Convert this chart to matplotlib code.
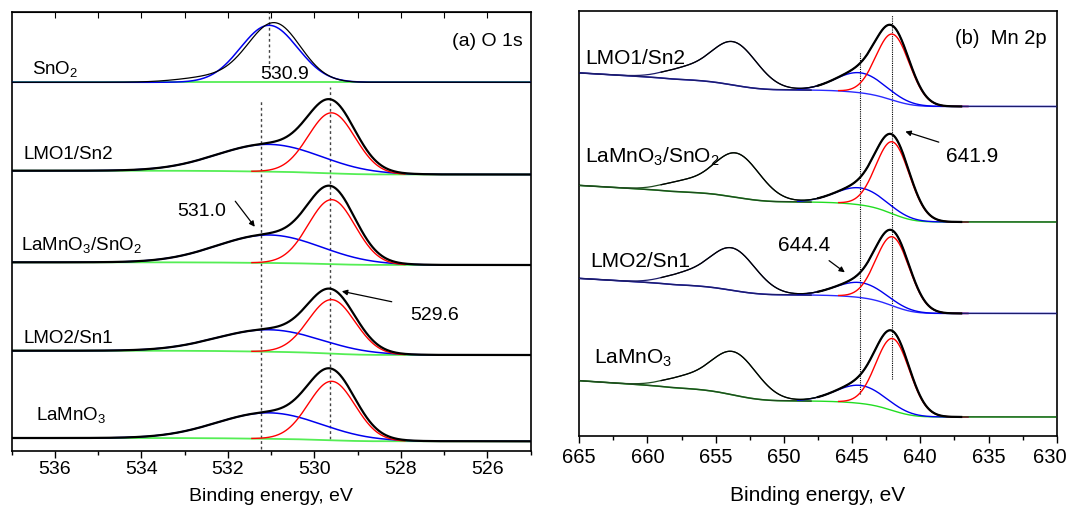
import numpy as np
import matplotlib.pyplot as plt
import matplotlib.transforms as mtransforms

plt.rcParams['font.family'] = ['Liberation Sans', 'DejaVu Sans']
plt.rcParams['mathtext.fontset'] = 'custom'
plt.rcParams['mathtext.rm'] = 'Liberation Sans'
plt.rcParams['mathtext.default'] = 'regular'

# ---------- (a) O 1s : peak parameters (a.u.) ----------
o1s_names = ["SnO$_2$", "LMO1/Sn2", "LaMnO$_3$/SnO$_2$", "LMO2/Sn1", "LaMnO$_3$"]
o1s_label_x = [536.52, 536.73, 536.79, 536.73, 536.44]
o1s_label_y = [383, 297, 207, 113, 37]
o1s_base = [368.4, 276.2, 185.7, 95.7, 9.4]      # background at low BE side
o1s_step = [0.0, 3.8, 2.7, 4.3, 3.3]             # Shirley step height
o1s_lat_pos = 529.6                               # lattice oxygen
o1s_lat_h = [0, 60.5, 64.5, 54, 59]
o1s_lat_sig = 0.54
o1s_ads_pos = [531.05, 531.05, 531.05, 531.05, 531.05]   # adsorbed oxygen
o1s_ads_h = [57, 27.3, 28, 22, 26]
o1s_ads_sig = [0.66, 1.2, 1.2, 1.2, 1.2]
sno2_meas_pos = [530.92, 532.2]
sno2_meas_h = [58, 6]
sno2_meas_sig = [0.6, 0.8]

# ---------- (b) Mn 2p ----------
mn_names = ["LMO1/Sn2", "LaMnO$_3$/SnO$_2$", "LMO2/Sn1", "LaMnO$_3$"]
mn_label_x = [664.58, 664.55, 664.2, 663.9]
mn_label_y = [378, 280, 175, 78]
mn_base = [329.2, 213.7, 122.2, 18.7]
mn_step1 = [16.5, 20, 18.5, 16]
mn_step2 = [11.5, 11, 11, 14]
mn_tail = [0.8, 0.8, 0.8, 0.9]
mn_bg_color = ['#2a2aff', '#22dd22', '#2a2aff', '#22dd22']
mn_bg_dark = ['#1c1c6a', '#1f4a1f', '#1c1c6a', '#1f4a1f']
mn_red_pos = 642.0
mn_red_h = [66, 72, 69, 72]
mn_red_sig = 1.23
mn_blue_pos = 644.4
mn_blue_h = [20, 17, 15, 18]
mn_blue_sig = 1.8
mn_p12_pos = [653.7, 653.5, 653.8, 653.7]
mn_p12_h = [43, 44, 42, 43]
mn_p12_sig = 1.7
mn_sat_pos = 657.5
mn_sat_h = [9, 9, 9, 9]
mn_sat_sig = 1.5


def gauss(x, c, h, s):
    return h * np.exp(-(x - c) ** 2 / (2 * s * s))


def shirley(peak, step):
    cum = np.cumsum(peak)
    return step * cum / cum[-1]


fig = plt.figure(figsize=(10.69, 5.06), dpi=100)
axa = fig.add_axes([0.01094, 0.1073, 0.4855, 0.8664])
axb = fig.add_axes([0.5419, 0.1370, 0.4466, 0.8387])

# ---------------- panel (a) ----------------
x = np.linspace(525, 537, 900)
for i in range(5):
    red = gauss(x, o1s_lat_pos, o1s_lat_h[i], o1s_lat_sig)
    blue = gauss(x, o1s_ads_pos[i], o1s_ads_h[i], o1s_ads_sig[i])
    bg = o1s_base[i] + shirley(red + blue, o1s_step[i])
    axa.plot(x, bg, color='#55ee55', lw=1.3, zorder=2)
    axa.plot(x, bg + blue, color='#0000ee', lw=1.1, zorder=3)
    if i == 0:
        meas = sum(gauss(x, c, h, s) for c, h, s in zip(sno2_meas_pos, sno2_meas_h, sno2_meas_sig))
        axa.plot(x, bg + meas, color='k', lw=0.9, zorder=4)
    else:
        m = (x > 527.9) & (x < 531.45)
        axa.plot(x[m], (bg + red)[m], color='#ff0000', lw=1.0, zorder=3)
        axa.plot(x, bg + red + blue, color='k', lw=1.6, zorder=4)
    axa.text(o1s_label_x[i], o1s_label_y[i], o1s_names[i], fontsize=13.5, va='center', ha='left')

vl = dict(color='#444444', lw=1.0, ls=(0, (2, 2)), zorder=1)
axa.plot([531.05, 531.05], [381.7, 438.4], **vl)
axa.plot([531.24, 531.24], [1.7, 351.7], **vl)
axa.plot([529.63, 529.63], [11.7, 363.4], **vl)

axa.text(530.70, 377.7, "530.9", fontsize=14, ha='center', va='center')
axa.text(526.0, 410, "(a) O 1s", fontsize=14, ha='center', va='center')
axa.text(532.61, 240, "531.0", fontsize=14, ha='center', va='center')
axa.text(527.22, 136.7, "529.6", fontsize=14, ha='center', va='center')
arr = dict(arrowstyle='-|>', color='k', lw=0.9, mutation_scale=8)
axa.annotate('', xy=(531.34, 221.7), xytext=(531.87, 251.7), arrowprops=arr)
axa.annotate('', xy=(529.43, 160), xytext=(528.15, 148.4), arrowprops=arr)

axa.set_xlim(537, 525)
axa.set_ylim(0, 438.4)
axa.set_yticks([])
axa.set_xticks(np.arange(526, 537, 2))
axa.set_xticks(np.arange(525, 538, 1), minor=True)
axa.tick_params(axis='x', which='major', direction='out', length=5, width=1, labelsize=14, pad=2)
axa.tick_params(axis='x', which='minor', direction='out', length=3, width=1)
sec = axa.secondary_xaxis('top')
sec.set_xticks(np.arange(526, 537, 1))
sec.set_xticklabels([])
sec.tick_params(axis='x', direction='in', length=4, width=0.8)
axa.set_xlabel("Binding energy, eV", fontsize=14, labelpad=7)

# ---------------- panel (b) ----------------
xb = np.linspace(630, 665, 1400)
for i in range(4):
    red = gauss(xb, mn_red_pos, mn_red_h[i], mn_red_sig)
    blue = gauss(xb, mn_blue_pos, mn_blue_h[i], mn_blue_sig)
    p12 = gauss(xb, mn_p12_pos[i], mn_p12_h[i], mn_p12_sig) + gauss(xb, mn_sat_pos, mn_sat_h[i], mn_sat_sig)
    bg = (mn_base[i] + shirley(red + blue, mn_step1[i]) + shirley(p12, mn_step2[i])
          + mn_tail[i] * np.clip(xb - 658, 0, None))
    raw = bg + red + blue + p12
    axb.plot(xb, bg, color=mn_bg_color[i], lw=1.0, zorder=2)
    md = xb > 648
    axb.plot(xb[md], bg[md], color=mn_bg_dark[i], lw=1.1, zorder=2)
    mb = (xb > 636.5) & (xb < 649)
    axb.plot(xb[mb], (bg + blue)[mb], color='#0000ee', lw=1.0, zorder=3)
    mr = (xb > 636.5) & (xb < 646.0)
    axb.plot(xb[mr], (bg + red)[mr], color='#ff0000', lw=1.0, zorder=3)
    axb.plot(xb, raw, color=mn_bg_dark[i], lw=0.9, zorder=4)
    mp = (xb > 647) & (xb < 659)
    axb.plot(xb[mp], raw[mp], color='k', lw=0.9, zorder=4)
    me = (xb > 637) & (xb < 647.5)
    axb.plot(xb[me], raw[me], color='k', lw=1.6, zorder=4)
    axb.text(mn_label_x[i], mn_label_y[i], mn_names[i], fontsize=15, va='center', ha='left')

vb = dict(color='k', lw=0.8, ls=(0, (1, 1)), zorder=1)
axb.plot([642.1, 642.1], [56.7, 421], **vb)
axb.plot([644.4, 644.4], [41.7, 383.7], **vb)

axb.text(634.1, 398.4, "(b)  Mn 2p", fontsize=14.5, ha='center', va='center')
axb.text(636.2, 280, "641.9", fontsize=15, ha='center', va='center')
axb.text(648.5, 190.7, "644.4", fontsize=15, ha='center', va='center')
axb.annotate('', xy=(641.29, 305), xytext=(638.45, 292.7), arrowprops=arr)
axb.annotate('', xy=(645.37, 161.7), xytext=(646.85, 176.7), arrowprops=arr)

axb.set_xlim(665, 630)
axb.set_ylim(0, 424.4)
axb.set_yticks([])
axb.set_xticks(np.arange(630, 666, 5))
axb.set_xticks(np.arange(630, 666, 2.5), minor=True)
axb.tick_params(axis='x', which='major', direction='out', length=5, width=1, labelsize=14.5, pad=3)
axb.tick_params(axis='x', which='minor', direction='out', length=3, width=1)
axb.set_xlabel("Binding energy, eV", fontsize=15, labelpad=14)

# keep the edge tick label ("630") inside the figure
last = axb.xaxis.get_major_ticks()[0].label1
last.set_horizontalalignment('right')
last.set_transform(last.get_transform() + mtransforms.ScaledTranslation(7 / 72, 0, fig.dpi_scale_trans))

for ax in (axa, axb):
    for s in ax.spines.values():
        s.set_linewidth(1.2)

plt.savefig("out.png")
